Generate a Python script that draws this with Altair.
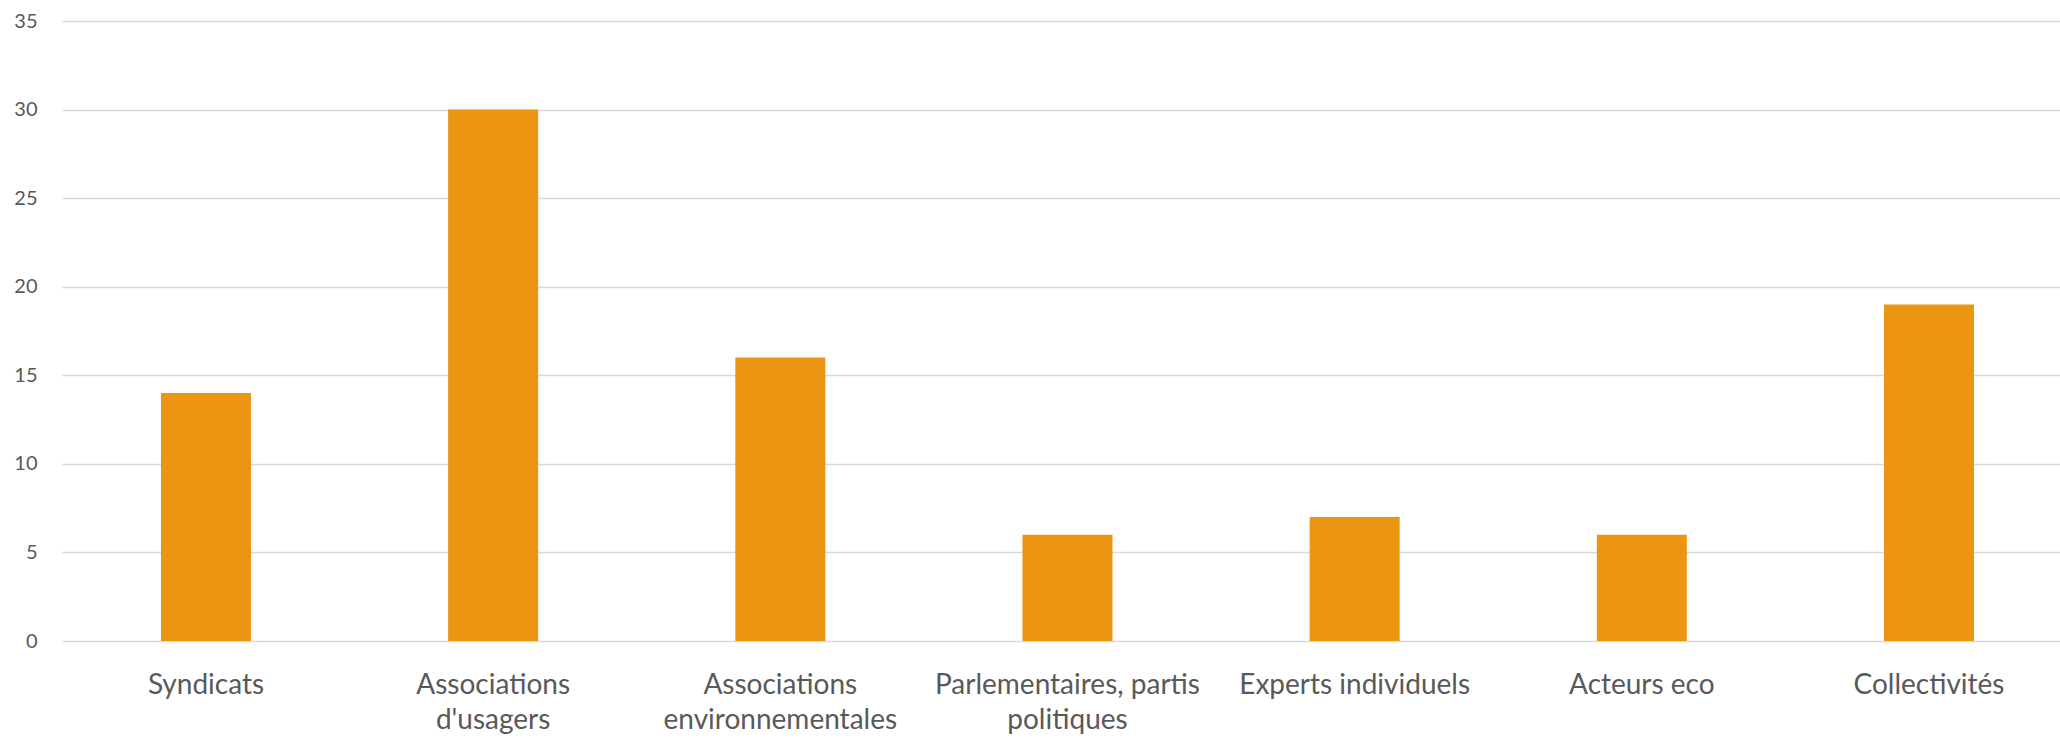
import json
import altair as alt
import pandas as pd

categories = [
    "Syndicats",
    "Associations d'usagers",
    "Associations environnementales",
    "Parlementaires, partis politiques",
    "Experts individuels",
    "Acteurs eco",
    "Collectivités",
]
values = [14, 30, 16, 6, 7, 6, 19]
y_ticks = [0, 5, 10, 15, 20, 25, 30, 35]

label_lines = {
    "Associations d'usagers": ["Associations", "d'usagers"],
    "Associations environnementales": ["Associations", "environnementales"],
    "Parlementaires, partis politiques": ["Parlementaires, partis", "politiques"],
}

df = pd.DataFrame({"categorie": categories, "valeur": values})

label_expr = json.dumps(label_lines) + "[datum.label] || datum.label"

chart = (
    alt.Chart(df)
    .mark_bar(color="#EB9513")
    .encode(
        x=alt.X(
            "categorie:N",
            sort=categories,
            title=None,
            scale=alt.Scale(paddingInner=0.6866, paddingOuter=0.3221, align=0.535),
            axis=alt.Axis(
                labelAngle=0,
                labelFont="Lato",
                labelFontSize=28,
                labelColor="#595959",
                labelPadding=30,
                labelLineHeight=35,
                labelExpr=label_expr,
                labelLimit=400,
                domain=False,
                ticks=False,
                grid=False,
            ),
        ),
        y=alt.Y(
            "valeur:Q",
            title=None,
            scale=alt.Scale(domain=[0, 35], nice=False),
            axis=alt.Axis(
                values=y_ticks,
                labelFont="Lato",
                labelFontSize=20,
                labelColor="#595959",
                labelPadding=25,
                domain=False,
                ticks=False,
                grid=True,
                gridColor="#D9D9D9",
                gridWidth=1.4,
            ),
        ),
    )
    .properties(
        width=1998,
        height=620,
        background="white",
        autosize=alt.AutoSizeParams(type="none"),
        padding={"left": 62, "top": 21, "right": 0, "bottom": 97},
    )
    .configure_view(stroke=None)
)

chart.save("out.html", embed_options={"renderer": "svg", "actions": False})
